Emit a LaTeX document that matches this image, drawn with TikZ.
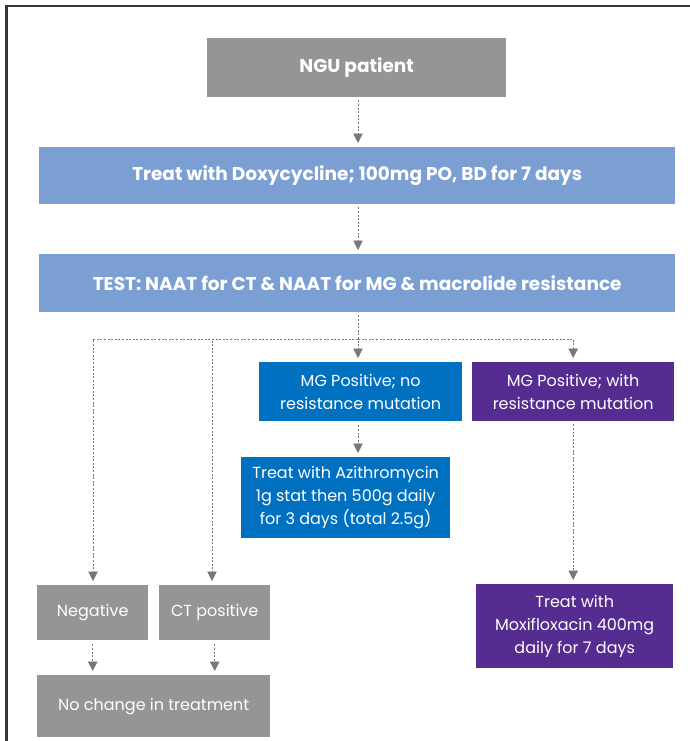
\documentclass[tikz,border=0pt]{standalone}
\usepackage{fontspec}
\setmainfont{Poppins}
\usetikzlibrary{arrows.meta}
\definecolor{boxgray}{RGB}{149,149,152}
\definecolor{lblue}{RGB}{123,159,211}
\definecolor{dblue}{RGB}{0,112,192}
\definecolor{dpurple}{RGB}{85,45,145}
\definecolor{arrgray}{RGB}{120,120,120}
\definecolor{framegray}{RGB}{55,55,55}
\begin{document}
\begin{tikzpicture}[x=1pt,y=-1pt,
  box/.style={anchor=north west, inner sep=0pt, text=white, align=center, font=\fontsize{16}{23}\selectfont},
  boldbox/.style={box, font=\fontsize{18.5}{22}\selectfont\bfseries},
  conn/.style={draw=arrgray, line width=0.9pt, dash pattern=on 2pt off 1.6pt},
  arr/.style={conn, -{Triangle[width=9.5pt,length=9.5pt]}, shorten >=4pt}]
\useasboundingbox (0,0) rectangle (690,741);
\fill[white] (0,0) rectangle (690,741);
\draw[framegray, line width=2.4pt] (6.5,741) -- (6.5,6) -- (690,6);
% boxes
\node[boldbox, fill=boxgray, minimum width=299pt, minimum height=59pt] (ngu) at (207,38) {NGU patient};
\node[boldbox, fill=lblue, minimum width=636pt, minimum height=57pt] (dox) at (39,147) {Treat with Doxycycline; 100mg PO, BD for 7 days};
\node[boldbox, fill=lblue, minimum width=636pt, minimum height=58pt] (test) at (39,254) {TEST: NAAT for CT \& NAAT for MG \& macrolide resistance};
\node[box, fill=dblue, minimum width=203pt, minimum height=59pt] (mgn) at (259,362) {MG Positive; no\\resistance mutation};
\node[box, fill=dpurple, minimum width=202pt, minimum height=59pt] (mgr) at (472,362) {MG Positive; with\\resistance mutation};
\node[box, fill=dblue, minimum width=209pt, minimum height=81pt] (azi) at (241,457) {Treat with Azithromycin\\1g stat then 500g daily\\for 3 days (total 2.5g)};
\node[box, fill=dpurple, minimum width=197pt, minimum height=84pt] (moxi) at (476,584) {Treat with\\Moxifloxacin 400mg\\daily for 7 days};
\node[box, fill=boxgray, minimum width=111pt, minimum height=55pt] (neg) at (37,585) {Negative};
\node[box, fill=boxgray, minimum width=111pt, minimum height=55pt] (ctp) at (159,585) {CT positive};
\node[box, fill=boxgray, minimum width=233pt, minimum height=62pt] (noch) at (37,675) {No change in treatment};
% connectors
\coordinate (split) at (358,339);
\draw[arr, shorten <=3pt] (ngu.south -| split) -- (dox.north -| split);
\draw[arr, shorten <=3pt] (dox.south -| split) -- (test.north -| split);
\draw[arr, shorten <=3pt] (test.south -| split) -- (mgn.north -| split);
\draw[arr] (split) -| (93,585);
\draw[arr] (split) -| (212,585);
\draw[arr] (split) -| (mgr.north);
\draw[arr, shorten <=4pt] (mgn.south -| split) -- (azi.north -| split);
\draw[arr, shorten <=3pt] (mgr.south) -- (moxi.north -| mgr.south);
\draw[arr, shorten <=4pt] (neg.south) -- (noch.north -| neg.south);
\draw[arr, shorten <=4pt] (ctp.south) -- (noch.north -| ctp.south);
\end{tikzpicture}
\end{document}
